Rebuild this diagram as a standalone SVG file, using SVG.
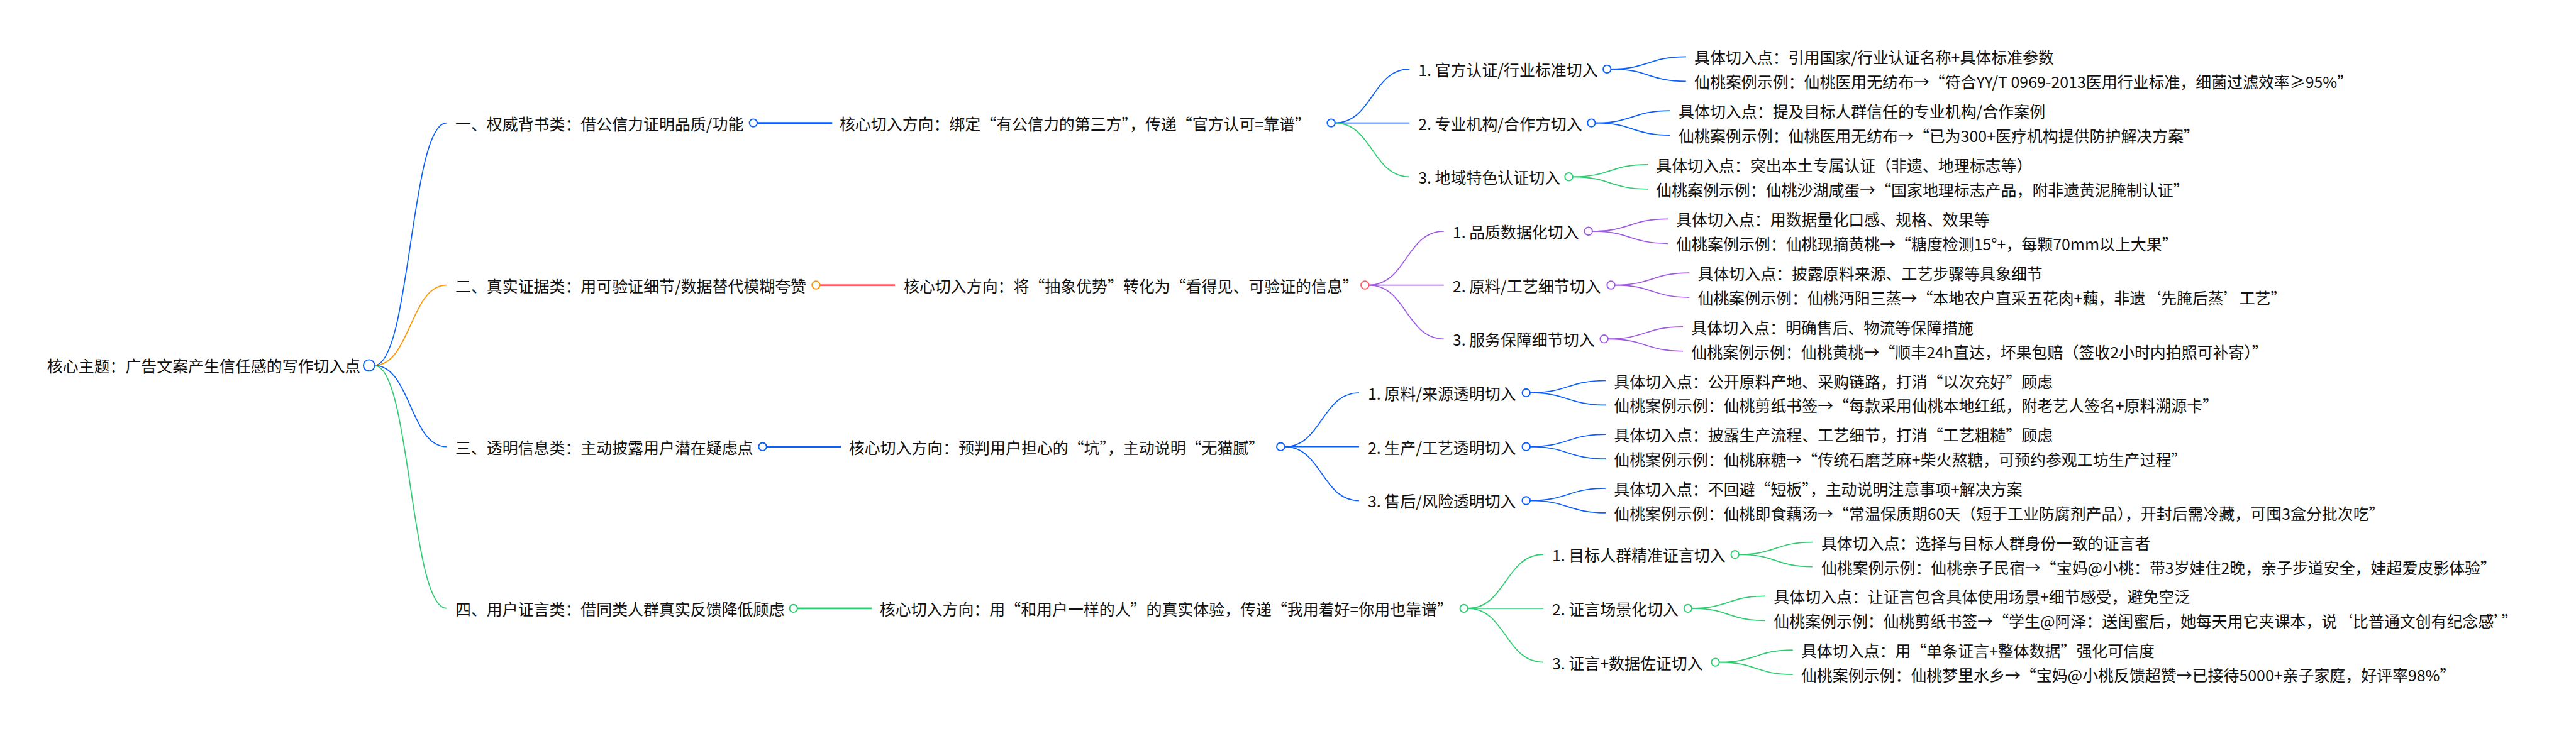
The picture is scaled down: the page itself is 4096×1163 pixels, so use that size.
<svg xmlns="http://www.w3.org/2000/svg" width="4096" height="1163" viewBox="0 0 4096 1163">
<style>
text{font-family:"Noto Sans CJK SC","Noto Sans CJK JP",sans-serif;font-size:32px;fill:#111;dominant-baseline:central}
.n{fill:#fff;stroke-width:2.5}
.e{fill:none;stroke-width:2.2}
.m{fill:none;stroke-width:3.5}
.bl{stroke:#0A5FFF}.or{stroke:#FF9500}.gr{stroke:#2ECC71}.pu{stroke:#9F5AE5}.rd{stroke:#FF5A5F}
</style>
<rect width="4096" height="1163" fill="#fff"/>
<g transform="scale(0.779299)">
<g id="connectors">
<path class="e bl" d="M764,746 C837.5,746 837.5,251 911,251"/>
<path class="e or" d="M764,746 C837.5,746 837.5,582 911,582"/>
<path class="e bl" d="M764,746 C837.5,746 837.5,912 911,912"/>
<path class="e gr" d="M764,746 C837.5,746 837.5,1242 911,1242"/>
<path class="m bl" d="M1545,251 H1698"/>
<path class="m rd" d="M1673,582 H1826"/>
<path class="m bl" d="M1564,912 H1716"/>
<path class="m gr" d="M1627,1242 H1779"/>
<path class="e bl" d="M2724,251 C2800,251 2800,141 2876,141"/>
<path class="e bl" d="M2724,251 H2876"/>
<path class="e gr" d="M2724,251 C2800,251 2800,361 2876,361"/>
<path class="e pu" d="M2793,582 C2869.5,582 2869.5,472 2946,472"/>
<path class="e pu" d="M2793,582 H2946"/>
<path class="e pu" d="M2793,582 C2869.5,582 2869.5,692 2946,692"/>
<path class="e bl" d="M2621,912 C2697,912 2697,802 2773,802"/>
<path class="e bl" d="M2621,912 H2773"/>
<path class="e bl" d="M2621,912 C2697,912 2697,1022 2773,1022"/>
<path class="e gr" d="M2995,1242 C3072,1242 3072,1132 3149,1132"/>
<path class="e gr" d="M2995,1242 H3149"/>
<path class="e gr" d="M2995,1242 C3072,1242 3072,1352 3149,1352"/>
<path class="e bl" d="M3287,141 C3363.5,141 3363.5,116 3440,116"/>
<path class="e bl" d="M3287,141 C3363.5,141 3363.5,166 3440,166"/>
<path class="e bl" d="M3255,251 C3331.5,251 3331.5,226 3408,226"/>
<path class="e bl" d="M3255,251 C3331.5,251 3331.5,276 3408,276"/>
<path class="e gr" d="M3209,361 C3285.5,361 3285.5,336 3362,336"/>
<path class="e gr" d="M3209,361 C3285.5,361 3285.5,386 3362,386"/>
<path class="e pu" d="M3249,472 C3326,472 3326,447 3403,447"/>
<path class="e pu" d="M3249,472 C3326,472 3326,497 3403,497"/>
<path class="e pu" d="M3295,582 C3371,582 3371,557 3447,557"/>
<path class="e pu" d="M3295,582 C3371,582 3371,607 3447,607"/>
<path class="e pu" d="M3281,692 C3357.5,692 3357.5,667 3434,667"/>
<path class="e pu" d="M3281,692 C3357.5,692 3357.5,717 3434,717"/>
<path class="e bl" d="M3122,802 C3199,802 3199,777 3276,777"/>
<path class="e bl" d="M3122,802 C3199,802 3199,827 3276,827"/>
<path class="e bl" d="M3122,912 C3199,912 3199,887 3276,887"/>
<path class="e bl" d="M3122,912 C3199,912 3199,937 3276,937"/>
<path class="e bl" d="M3122,1022 C3199,1022 3199,997 3276,997"/>
<path class="e bl" d="M3122,1022 C3199,1022 3199,1047 3276,1047"/>
<path class="e gr" d="M3548,1132 C3623,1132 3623,1107 3698,1107"/>
<path class="e gr" d="M3548,1132 C3623,1132 3623,1157 3698,1157"/>
<path class="e gr" d="M3452,1242 C3527,1242 3527,1217 3602,1217"/>
<path class="e gr" d="M3452,1242 C3527,1242 3527,1267 3602,1267"/>
<path class="e gr" d="M3508,1352 C3583,1352 3583,1327 3658,1327"/>
<path class="e gr" d="M3508,1352 C3583,1352 3583,1377 3658,1377"/>
</g>
<g id="root"><text x="96" y="746">核心主题：广告文案产生信任感的写作切入点</text><circle class="n bl" cx="753" cy="746" r="11.5"/></g>

<g id="b1"><text x="929" y="251">一、权威背书类：借公信力证明品质/功能</text><circle class="n bl" cx="1537" cy="251" r="8"/></g>
<g id="b1-core"><text x="1713" y="251">核心切入方向：绑定“有公信力的第三方”，传递“官方认可=靠谱”</text><circle class="n bl" cx="2716" cy="251" r="8"/></g>
<g id="b1-1"><text x="2894" y="141">1. 官方认证/行业标准切入</text><circle class="n bl" cx="3279" cy="141" r="8"/></g>
<g id="b1-1a"><text x="3457" y="116">具体切入点：引用国家/行业认证名称+具体标准参数</text></g>
<g id="b1-1b"><text x="3457" y="166">仙桃案例示例：仙桃医用无纺布→“符合YY/T 0969-2013医用行业标准，细菌过滤效率≥95%”</text></g>
<g id="b1-2"><text x="2894" y="251">2. 专业机构/合作方切入</text><circle class="n bl" cx="3247" cy="251" r="8"/></g>
<g id="b1-2a"><text x="3425" y="226">具体切入点：提及目标人群信任的专业机构/合作案例</text></g>
<g id="b1-2b"><text x="3425" y="276">仙桃案例示例：仙桃医用无纺布→“已为300+医疗机构提供防护解决方案”</text></g>
<g id="b1-3"><text x="2894" y="361">3. 地域特色认证切入</text><circle class="n gr" cx="3201" cy="361" r="8"/></g>
<g id="b1-3a"><text x="3379" y="336">具体切入点：突出本土专属认证（非遗、地理标志等）</text></g>
<g id="b1-3b"><text x="3379" y="386">仙桃案例示例：仙桃沙湖咸蛋→“国家地理标志产品，附非遗黄泥腌制认证”</text></g>

<g id="b2"><text x="929" y="582">二、真实证据类：用可验证细节/数据替代模糊夸赞</text><circle class="n or" cx="1665" cy="582" r="8"/></g>
<g id="b2-core"><text x="1844" y="582">核心切入方向：将“抽象优势”转化为“看得见、可验证的信息”</text><circle class="n rd" cx="2785" cy="582" r="8"/></g>
<g id="b2-1"><text x="2964" y="472">1. 品质数据化切入</text><circle class="n pu" cx="3241" cy="472" r="8"/></g>
<g id="b2-1a"><text x="3420" y="447">具体切入点：用数据量化口感、规格、效果等</text></g>
<g id="b2-1b"><text x="3420" y="497">仙桃案例示例：仙桃现摘黄桃→“糖度检测15°+，每颗70mm以上大果”</text></g>
<g id="b2-2"><text x="2964" y="582">2. 原料/工艺细节切入</text><circle class="n pu" cx="3287" cy="582" r="8"/></g>
<g id="b2-2a"><text x="3464" y="557">具体切入点：披露原料来源、工艺步骤等具象细节</text></g>
<g id="b2-2b"><text x="3464" y="607">仙桃案例示例：仙桃沔阳三蒸→“本地农户直采五花肉+藕，非遗‘先腌后蒸’工艺”</text></g>
<g id="b2-3"><text x="2964" y="692">3. 服务保障细节切入</text><circle class="n pu" cx="3273" cy="692" r="8"/></g>
<g id="b2-3a"><text x="3451" y="667">具体切入点：明确售后、物流等保障措施</text></g>
<g id="b2-3b"><text x="3451" y="717">仙桃案例示例：仙桃黄桃→“顺丰24h直达，坏果包赔（签收2小时内拍照可补寄）”</text></g>

<g id="b3"><text x="929" y="912">三、透明信息类：主动披露用户潜在疑虑点</text><circle class="n bl" cx="1556" cy="912" r="8"/></g>
<g id="b3-core"><text x="1732" y="912">核心切入方向：预判用户担心的“坑”，主动说明“无猫腻”</text><circle class="n bl" cx="2613" cy="912" r="8"/></g>
<g id="b3-1"><text x="2791" y="802">1. 原料/来源透明切入</text><circle class="n bl" cx="3114" cy="802" r="8"/></g>
<g id="b3-1a"><text x="3293" y="777">具体切入点：公开原料产地、采购链路，打消“以次充好”顾虑</text></g>
<g id="b3-1b"><text x="3293" y="827">仙桃案例示例：仙桃剪纸书签→“每款采用仙桃本地红纸，附老艺人签名+原料溯源卡”</text></g>
<g id="b3-2"><text x="2791" y="912">2. 生产/工艺透明切入</text><circle class="n bl" cx="3114" cy="912" r="8"/></g>
<g id="b3-2a"><text x="3293" y="887">具体切入点：披露生产流程、工艺细节，打消“工艺粗糙”顾虑</text></g>
<g id="b3-2b"><text x="3293" y="937">仙桃案例示例：仙桃麻糖→“传统石磨芝麻+柴火熬糖，可预约参观工坊生产过程”</text></g>
<g id="b3-3"><text x="2791" y="1022">3. 售后/风险透明切入</text><circle class="n bl" cx="3114" cy="1022" r="8"/></g>
<g id="b3-3a"><text x="3293" y="997">具体切入点：不回避“短板”，主动说明注意事项+解决方案</text></g>
<g id="b3-3b"><text x="3293" y="1047">仙桃案例示例：仙桃即食藕汤→“常温保质期60天（短于工业防腐剂产品），开封后需冷藏，可囤3盒分批次吃”</text></g>

<g id="b4"><text x="929" y="1242">四、用户证言类：借同类人群真实反馈降低顾虑</text><circle class="n gr" cx="1619" cy="1242" r="8"/></g>
<g id="b4-core"><text x="1795" y="1242">核心切入方向：用“和用户一样的人”的真实体验，传递“我用着好=你用也靠谱”</text><circle class="n gr" cx="2987" cy="1242" r="8"/></g>
<g id="b4-1"><text x="3167" y="1132">1. 目标人群精准证言切入</text><circle class="n gr" cx="3540" cy="1132" r="8"/></g>
<g id="b4-1a"><text x="3716" y="1107">具体切入点：选择与目标人群身份一致的证言者</text></g>
<g id="b4-1b"><text x="3716" y="1157">仙桃案例示例：仙桃亲子民宿→“宝妈@小桃：带3岁娃住2晚，亲子步道安全，娃超爱皮影体验”</text></g>
<g id="b4-2"><text x="3167" y="1242">2. 证言场景化切入</text><circle class="n gr" cx="3444" cy="1242" r="8"/></g>
<g id="b4-2a"><text x="3619" y="1217">具体切入点：让证言包含具体使用场景+细节感受，避免空泛</text></g>
<g id="b4-2b"><text x="3619" y="1267">仙桃案例示例：仙桃剪纸书签→“学生@阿泽：送闺蜜后，她每天用它夹课本，说‘比普通文创有纪念感’”</text></g>
<g id="b4-3"><text x="3167" y="1352">3. 证言+数据佐证切入</text><circle class="n gr" cx="3500" cy="1352" r="8"/></g>
<g id="b4-3a"><text x="3675" y="1327">具体切入点：用“单条证言+整体数据”强化可信度</text></g>
<g id="b4-3b"><text x="3675" y="1377">仙桃案例示例：仙桃梦里水乡→“宝妈@小桃反馈超赞→已接待5000+亲子家庭，好评率98%”</text></g>
</g>
</svg>
